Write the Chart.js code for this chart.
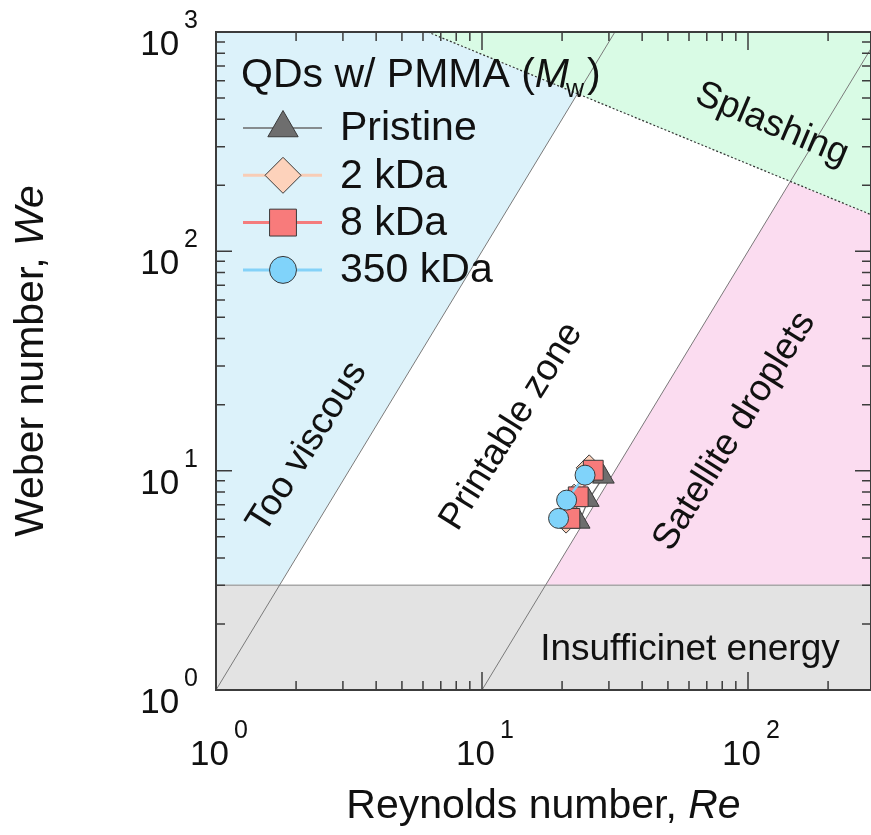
<!DOCTYPE html>
<html>
<head>
<meta charset="utf-8">
<script src="https://cdn.jsdelivr.net/npm/chart.js@4.4.0/dist/chart.umd.min.js"></script>
<style>
  html, body { margin:0; padding:0; background:#fff; overflow:hidden; }
  #regime { display:block; }
</style>
</head>
<body>
<canvas id="regime" width="871" height="835"></canvas>
<script>
// axis ranges, Re on x and We on y (both log)
var reRange = [1, 290];
var weRange = [1, 1000];
var reDecades = [0, 1, 2];
var weDecades = [0, 1, 2, 3];

var pristineRe = [28.6, 25.1, 23.2];
var pristineWe = [9.37, 7.34, 5.84];
var kda2Re = [25.3, 22.2, 20.7];
var kda2We = [10.3, 7.57, 5.95];
var kda8Re = [26.2, 23.0, 21.4];
var kda8We = [10.05, 7.60, 6.06];
var kda350Re = [24.4, 20.8, 19.4];
var kda350We = [9.54, 7.34, 6.06];

// regime boundaries, end points as [Re, We]
var viscousLine = [[1, 1], [31.6, 1000]];     // Z = 1
var satelliteLine = [[10, 1], [290, 841]];    // Z = 10
var splashLine = [[6.25, 1000], [290, 147]];
var energyLine = [[1, 3], [290, 3]];

// regime areas
var tooViscousArea = [[1, 3], [1, 1000], [6.25, 1000], [22.9, 523], [1.73, 3]];
var printableArea = [[1.73, 3], [22.9, 523], [144, 208], [17.3, 3]];
var satelliteArea = [[17.3, 3], [144, 208], [290, 147], [290, 3]];
var splashArea = [[6.25, 1000], [290, 1000], [290, 147]];
var energyArea = [[1, 1], [290, 1], [290, 3], [1, 3]];

var zoneNames = ['Too viscous', 'Printable zone', 'Satellite droplets', 'Splashing', 'Insufficinet energy'];
var zoneAt = [[2.2, 12.8], [12.9, 15.9], [89, 15.1], [123, 379], [60.5, 1.52]];
var zoneAngle = [-58, -58, -58, 23, 0];

var FONT = '"Liberation Sans", Arial, sans-serif';

function pairs(xs, ys) {
  return xs.map(function (x, i) { return { x: x, y: ys[i] }; });
}

var series = [
  { label: 'Pristine', data: pairs(pristineRe, pristineWe), style: 'triangle', r: 12.5, lr: 17.5,
    fill: '#6e6e6e', line: '#6a6a6a', lw: 1.2, order: 4 },
  { label: '2 kDa', data: pairs(kda2Re, kda2We), style: 'rectRot', r: 13, lr: 18,
    fill: '#fdd2bb', line: '#f8cdb6', lw: 2.5, order: 3 },
  { label: '8 kDa', data: pairs(kda8Re, kda8We), style: 'rect', r: 14, lr: 19,
    fill: '#f87b7b', line: '#f47c7c', lw: 2.5, order: 2 },
  { label: '350 kDa', data: pairs(kda350Re, kda350We), style: 'circle', r: 10, lr: 13.5,
    fill: '#80d3fa', line: '#84d2f8', lw: 2.5, order: 1 }
];

function marker(ctx, style, x, y, r, fill) {
  ctx.beginPath();
  if (style === 'circle') {
    ctx.arc(x, y, r, 0, Math.PI * 2);
  } else if (style === 'rect') {
    var s = r * Math.SQRT1_2;
    ctx.rect(x - s, y - s, 2 * s, 2 * s);
  } else if (style === 'rectRot') {
    ctx.moveTo(x, y - r); ctx.lineTo(x + r, y); ctx.lineTo(x, y + r); ctx.lineTo(x - r, y);
    ctx.closePath();
  } else {
    for (var k = 0; k < 3; k++) {
      var a = k * 2 * Math.PI / 3;
      var px = x + Math.sin(a) * r, py = y - Math.cos(a) * r;
      if (k === 0) ctx.moveTo(px, py); else ctx.lineTo(px, py);
    }
    ctx.closePath();
  }
  ctx.fillStyle = fill; ctx.fill();
  ctx.lineWidth = 1; ctx.strokeStyle = '#3a3a3a'; ctx.stroke();
}

function area(ctx, xs, ys, pts, color) {
  ctx.beginPath();
  pts.forEach(function (p, i) {
    var px = xs.getPixelForValue(p[0]), py = ys.getPixelForValue(p[1]);
    if (i === 0) ctx.moveTo(px, py); else ctx.lineTo(px, py);
  });
  ctx.closePath();
  ctx.fillStyle = color; ctx.fill();
}

function segment(ctx, xs, ys, pts, color, width, dash) {
  ctx.beginPath();
  ctx.setLineDash(dash || []);
  ctx.moveTo(xs.getPixelForValue(pts[0][0]), ys.getPixelForValue(pts[0][1]));
  ctx.lineTo(xs.getPixelForValue(pts[1][0]), ys.getPixelForValue(pts[1][1]));
  ctx.strokeStyle = color; ctx.lineWidth = width; ctx.stroke();
  ctx.setLineDash([]);
}

// "10" with a raised exponent; x is label centre (x axis) or right edge (y axis)
function powLabel(ctx, x, y, exp, alignRight) {
  ctx.font = '35px ' + FONT;
  var wb = ctx.measureText('10').width;
  ctx.font = '25px ' + FONT;
  var we = ctx.measureText(String(exp)).width;
  var gap = 5;
  var left = alignRight ? x - wb - we - gap : x - (wb + we + gap) / 2;
  ctx.fillStyle = '#111';
  ctx.textAlign = 'left';
  ctx.textBaseline = 'alphabetic';
  ctx.font = '35px ' + FONT;
  ctx.fillText('10', left, y);
  ctx.font = '25px ' + FONT;
  ctx.fillText(String(exp), left + wb + gap, y - 27);
}

var regimePlugin = {
  id: 'regime',
  beforeDatasetsDraw: function (chart) {
    var ctx = chart.ctx, xs = chart.scales.x, ys = chart.scales.y, ca = chart.chartArea;
    ctx.save();
    ctx.beginPath();
    ctx.rect(ca.left, ca.top, ca.right - ca.left, ca.bottom - ca.top);
    ctx.clip();
    area(ctx, xs, ys, tooViscousArea, '#dcf2fa');
    area(ctx, xs, ys, printableArea, '#ffffff');
    area(ctx, xs, ys, satelliteArea, '#fbdcf0');
    area(ctx, xs, ys, splashArea, '#d9fbe5');
    area(ctx, xs, ys, energyArea, '#e3e3e3');
    segment(ctx, xs, ys, energyLine, '#a8a8a8', 1.5);
    segment(ctx, xs, ys, viscousLine, '#7a7a7a', 1);
    segment(ctx, xs, ys, satelliteLine, '#7a7a7a', 1);
    segment(ctx, xs, ys, splashLine, '#333', 1.2, [2, 2]);

    ctx.fillStyle = '#111';
    ctx.font = '37px ' + FONT;
    ctx.textAlign = 'center';
    ctx.textBaseline = 'middle';
    zoneNames.forEach(function (name, i) {
      ctx.save();
      ctx.translate(xs.getPixelForValue(zoneAt[i][0]), ys.getPixelForValue(zoneAt[i][1]));
      ctx.rotate(zoneAngle[i] * Math.PI / 180);
      ctx.fillText(name, 0, 0);
      ctx.restore();
    });
    ctx.restore();
  },
  afterDraw: function (chart) {
    var ctx = chart.ctx, xs = chart.scales.x, ys = chart.scales.y, ca = chart.chartArea;
    ctx.save();
    // frame
    ctx.strokeStyle = '#3c3c3c';
    ctx.lineWidth = 2;
    ctx.strokeRect(ca.left, ca.top, ca.right - ca.left, ca.bottom - ca.top);

    // inward ticks on all four sides
    ctx.lineWidth = 1.5;
    ctx.beginPath();
    reDecades.forEach(function (e) {
      for (var m = 1; m <= 9; m++) {
        var v = m * Math.pow(10, e);
        if (v < reRange[0] || v > reRange[1]) continue;
        var px = xs.getPixelForValue(v), len = m === 1 ? 18 : 9;
        ctx.moveTo(px, ca.bottom); ctx.lineTo(px, ca.bottom - len);
        ctx.moveTo(px, ca.top); ctx.lineTo(px, ca.top + len);
      }
    });
    weDecades.forEach(function (e) {
      for (var m = 1; m <= 9; m++) {
        var v = m * Math.pow(10, e);
        if (v < weRange[0] || v > weRange[1]) continue;
        var py = ys.getPixelForValue(v), len = m === 1 ? 16 : 9;
        ctx.moveTo(ca.left, py); ctx.lineTo(ca.left + len, py);
        ctx.moveTo(ca.right, py); ctx.lineTo(ca.right - len, py);
      }
    });
    ctx.stroke();

    // tick labels
    reDecades.forEach(function (e) {
      powLabel(ctx, xs.getPixelForValue(Math.pow(10, e)) + 3, ca.bottom + 75, e, false);
    });
    weDecades.forEach(function (e) {
      powLabel(ctx, 198, ys.getPixelForValue(Math.pow(10, e)) + 23, e, true);
    });

    // axis titles
    function titleParts(plain, ital) {
      ctx.font = '41px ' + FONT;
      var w1 = ctx.measureText(plain).width;
      ctx.font = 'italic 41px ' + FONT;
      var w2 = ctx.measureText(ital).width;
      return [w1, w2];
    }
    ctx.fillStyle = '#111';
    ctx.textAlign = 'left';
    ctx.textBaseline = 'alphabetic';
    var wx = titleParts('Reynolds number, ', 'Re');
    var sx = (ca.left + ca.right) / 2 - (wx[0] + wx[1]) / 2;
    ctx.font = '41px ' + FONT;
    ctx.fillText('Reynolds number, ', sx, 818);
    ctx.font = 'italic 41px ' + FONT;
    ctx.fillText('Re', sx + wx[0], 818);

    var wy = titleParts('Weber number, ', 'We');
    ctx.save();
    ctx.translate(43, (ca.top + ca.bottom) / 2);
    ctx.rotate(-Math.PI / 2);
    var sy = -(wy[0] + wy[1]) / 2;
    ctx.font = '41px ' + FONT;
    ctx.fillText('Weber number, ', sy, 0);
    ctx.font = 'italic 41px ' + FONT;
    ctx.fillText('We', sy + wy[0], 0);
    ctx.restore();

    // legend
    var lx = 241, ly = 87;
    ctx.font = '41px ' + FONT;
    var t1 = 'QDs w/ PMMA (';
    ctx.fillText(t1, lx, ly);
    var cx = lx + ctx.measureText(t1).width;
    ctx.font = 'italic 41px ' + FONT;
    ctx.fillText('M', cx, ly);
    cx += ctx.measureText('M').width;
    ctx.font = '25px ' + FONT;
    ctx.fillText('w', cx - 3, ly + 10);
    cx += ctx.measureText('w').width;
    ctx.font = '41px ' + FONT;
    ctx.fillText(')', cx, ly);

    series.forEach(function (s, i) {
      var yy = 128 + i * 47.3;
      ctx.beginPath();
      ctx.moveTo(243, yy); ctx.lineTo(322, yy);
      ctx.strokeStyle = s.line; ctx.lineWidth = s.lw + 0.5; ctx.stroke();
      marker(ctx, s.style, 283, yy, s.lr, s.fill);
      ctx.fillStyle = '#111';
      ctx.font = '41px ' + FONT;
      ctx.textBaseline = 'middle';
      ctx.fillText(s.label, 340, yy + 1);
      ctx.textBaseline = 'alphabetic';
    });
    ctx.restore();
  }
};

new Chart(document.getElementById('regime'), {
  type: 'scatter',
  data: {
    datasets: series.map(function (s) {
      return {
        label: s.label,
        data: s.data,
        showLine: true,
        borderColor: s.line,
        borderWidth: s.lw,
        backgroundColor: s.fill,
        pointStyle: s.style,
        pointRadius: s.r,
        pointBackgroundColor: s.fill,
        pointBorderColor: '#3a3a3a',
        pointBorderWidth: 1,
        order: s.order
      };
    })
  },
  options: {
    responsive: false,
    animation: false,
    layout: { autoPadding: false, padding: { left: 216, top: 32, right: 0, bottom: 145 } },
    plugins: { legend: { display: false }, tooltip: { enabled: false } },
    scales: {
      x: { type: 'logarithmic', min: reRange[0], max: reRange[1], display: false },
      y: { type: 'logarithmic', min: weRange[0], max: weRange[1], display: false }
    }
  },
  plugins: [regimePlugin]
});
</script>
</body>
</html>
